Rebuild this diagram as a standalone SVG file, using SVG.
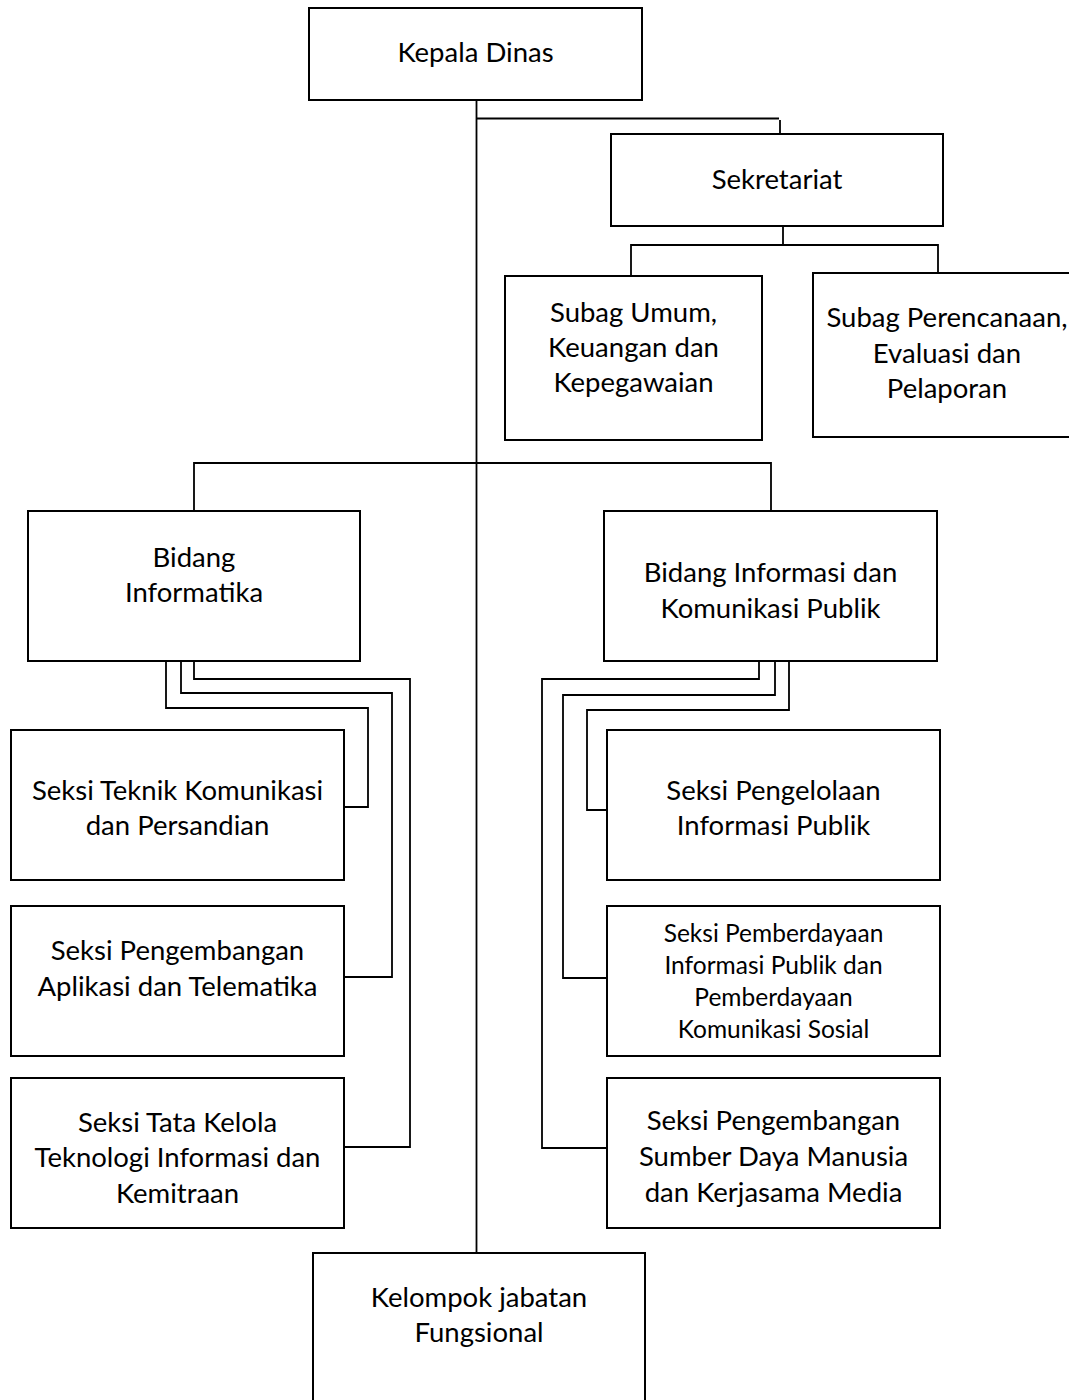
<svg xmlns="http://www.w3.org/2000/svg" width="1069" height="1400" viewBox="0 0 1069 1400">
<style>
.box{fill:#fff;stroke:#000;stroke-width:2}
.t{font-family:Lato,"Open Sans","Liberation Sans",sans-serif;font-size:27.5px;fill:#000;text-anchor:middle}
.s{font-size:24.5px}
.c{fill:none;stroke:#000;stroke-width:1.8}
</style>
<rect width="1069" height="1400" fill="#fff"/>
<g id="connectors">
<path class="c" d="M476.5,100 V1253"/>
<path class="c" d="M477,118.5 H779 M780,120 V134"/>
<path class="c" d="M783,226 V245 M631,276 V245 H938 V273"/>
<path class="c" d="M194,511 V463 H771 V511"/>
<path class="c" d="M166,661 V708 H368 V807 H344"/>
<path class="c" d="M181,661 V693 H392 V977 H344"/>
<path class="c" d="M194,661 V679 H410 V1147 H344"/>
<path class="c" d="M759,661 V679 H542 V1148 H607"/>
<path class="c" d="M775,661 V695 H563 V978 H607"/>
<path class="c" d="M789,661 V710 H587 V810 H607"/>
</g>
<g id="kepala-dinas">
<rect class="box" x="309" y="8" width="333" height="92"/>
<text class="t" x="475.5" y="62">Kepala Dinas</text>
</g>
<g id="sekretariat">
<rect class="box" x="611" y="134" width="332" height="92"/>
<text class="t" x="777" y="189">Sekretariat</text>
</g>
<g id="subag-umum">
<rect class="box" x="505" y="276" width="257" height="164"/>
<text class="t" x="633.5" y="322">Subag Umum,</text>
<text class="t" x="633.5" y="357">Keuangan dan</text>
<text class="t" x="633.5" y="392">Kepegawaian</text>
</g>
<g id="subag-perencanaan">
<rect class="box" x="813" y="273" width="268" height="164"/>
<text class="t" x="947" y="327">Subag Perencanaan,</text>
<text class="t" x="947" y="363">Evaluasi dan</text>
<text class="t" x="947" y="398">Pelaporan</text>
</g>
<g id="bidang-informatika">
<rect class="box" x="28" y="511" width="332" height="150"/>
<text class="t" x="194" y="567">Bidang</text>
<text class="t" x="194" y="602">Informatika</text>
</g>
<g id="bidang-ikp">
<rect class="box" x="604" y="511" width="333" height="150"/>
<text class="t" x="770.5" y="582">Bidang Informasi dan</text>
<text class="t" x="770.5" y="618">Komunikasi Publik</text>
</g>
<g id="seksi-teknik">
<rect class="box" x="11" y="730" width="333" height="150"/>
<text class="t" x="177.5" y="800">Seksi Teknik Komunikasi</text>
<text class="t" x="177.5" y="835">dan Persandian</text>
</g>
<g id="seksi-aplikasi">
<rect class="box" x="11" y="906" width="333" height="150"/>
<text class="t" x="177.5" y="960">Seksi Pengembangan</text>
<text class="t" x="177.5" y="996">Aplikasi dan Telematika</text>
</g>
<g id="seksi-tata-kelola">
<rect class="box" x="11" y="1078" width="333" height="150"/>
<text class="t" x="177.5" y="1132">Seksi Tata Kelola</text>
<text class="t" x="177.5" y="1167">Teknologi Informasi dan</text>
<text class="t" x="177.5" y="1203">Kemitraan</text>
</g>
<g id="seksi-pengelolaan">
<rect class="box" x="607" y="730" width="333" height="150"/>
<text class="t" x="773.5" y="800">Seksi Pengelolaan</text>
<text class="t" x="773.5" y="835">Informasi Publik</text>
</g>
<g id="seksi-pemberdayaan">
<rect class="box" x="607" y="906" width="333" height="150"/>
<text class="t s" x="773.5" y="942">Seksi Pemberdayaan</text>
<text class="t s" x="773.5" y="974">Informasi Publik dan</text>
<text class="t s" x="773.5" y="1006">Pemberdayaan</text>
<text class="t s" x="773.5" y="1038">Komunikasi Sosial</text>
</g>
<g id="seksi-sdm">
<rect class="box" x="607" y="1078" width="333" height="150"/>
<text class="t" x="773.5" y="1130">Seksi Pengembangan</text>
<text class="t" x="773.5" y="1166">Sumber Daya Manusia</text>
<text class="t" x="773.5" y="1202">dan Kerjasama Media</text>
</g>
<g id="kelompok-jabatan">
<rect class="box" x="313" y="1253" width="332" height="160"/>
<text class="t" x="479" y="1307">Kelompok jabatan</text>
<text class="t" x="479" y="1342">Fungsional</text>
</g>
</svg>
